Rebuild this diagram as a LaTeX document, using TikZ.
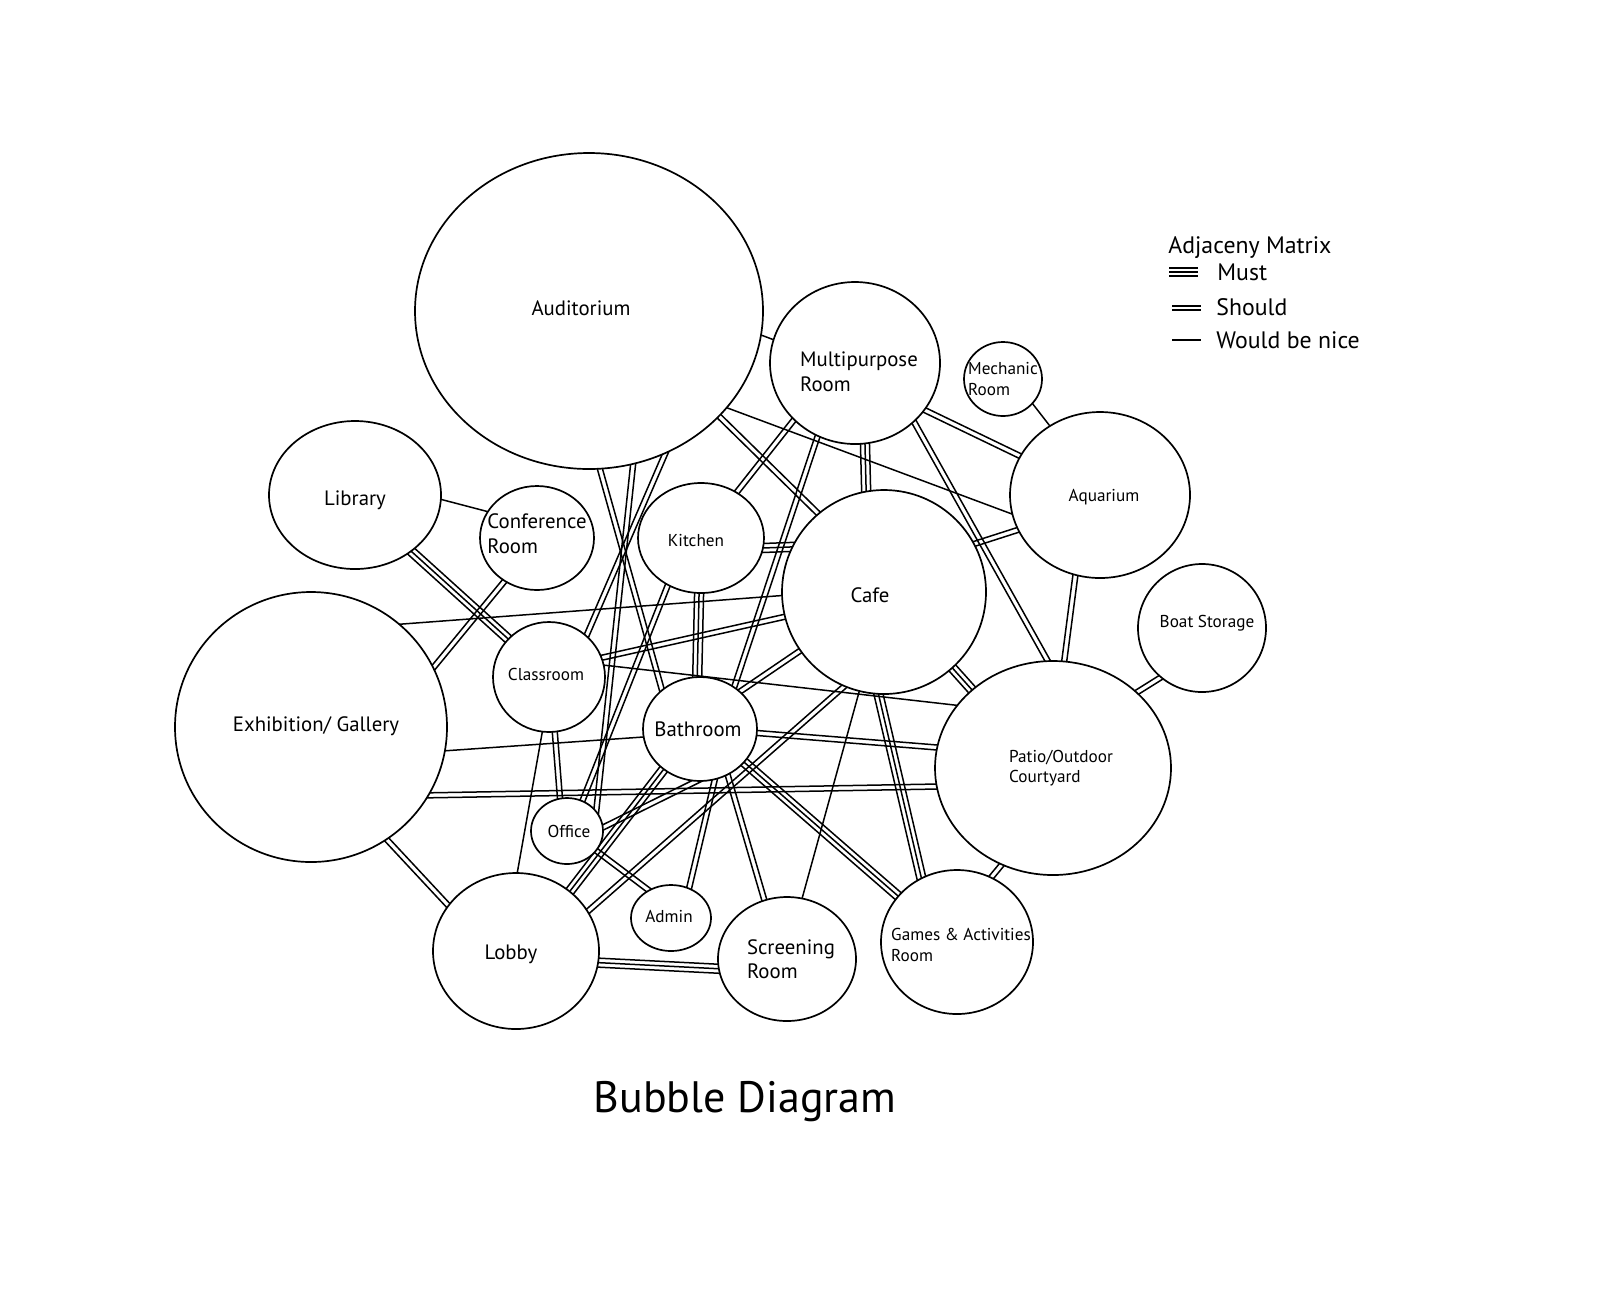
\documentclass[tikz,border=0pt]{standalone}
\usepackage{fontspec}
\setmainfont{PT Sans}
\usetikzlibrary {shapes.geometric}
\usetikzlibrary {positioning}
\usetikzlibrary {calc}
\usetikzlibrary {backgrounds}

\begin{document}
\begin{tikzpicture}[x=0.5pt, y=-0.5pt,
  bubble/.style={ellipse, draw, fill=white, line width=0.85pt, inner sep=0pt},
  tag/.style={align=left, inner sep=0pt},
  big/.style={font=\fontsize{10.4}{12.3}\selectfont},
  small/.style={font=\fontsize{8.6}{10.2}\selectfont},
  link/.style={line width=0.75pt, shorten <=-5pt, shorten >=-5pt},
  keyline/.style={line width=0.75pt},
  key/.style={anchor=base west, inner sep=0pt, font=\fontsize{11.9}{14}\selectfont}]

\useasboundingbox (0,0) rectangle (1600,1298);

% bubbles
\node (aud) [bubble, minimum width=174pt, minimum height=158pt] at (589,311) {};
\node (multi) [bubble, minimum width=85pt, minimum height=81pt] at (855,363) {};
\node (mech) [bubble, minimum width=39pt, minimum height=37pt] at (1003,379) {};
\node (aqua) [bubble, minimum width=90pt, minimum height=83pt] at (1100,495) {};
\node (boat) [bubble, minimum width=64pt, minimum height=64pt] at (1202,628) {};
\node (lib) [bubble, minimum width=86pt, minimum height=74pt] at (355,495) {};
\node (conf) [bubble, minimum width=57pt, minimum height=52pt] at (537,538) {};
\node (kit) [bubble, minimum width=63pt, minimum height=55pt] at (701,538) {};
\node (cafe) [bubble, minimum width=102pt, minimum height=102pt] at (884,592) {};
\node (class) [bubble, minimum width=56pt, minimum height=55pt] at (549,677) {};
\node (exhib) [bubble, minimum width=136pt, minimum height=135pt] at (311,727) {};
\node (bath) [bubble, minimum width=57pt, minimum height=52pt] at (700,729) {};
\node (patio) [bubble, minimum width=118pt, minimum height=107pt] at (1053,768) {};
\node (office) [bubble, minimum width=36pt, minimum height=33pt] at (567,831) {};
\node (admin) [bubble, minimum width=40pt, minimum height=33pt] at (671,918) {};
\node (lobby) [bubble, minimum width=83pt, minimum height=78pt] at (516,951) {};
\node (screen) [bubble, minimum width=69pt, minimum height=62pt] at (787,959) {};
\node (games) [bubble, minimum width=76pt, minimum height=72pt] at (957,942) {};

% names
\node (aud-t) [tag, big] at ($(aud)+(-8,-3)$) {Auditorium};
\node (multi-t) [tag, big] at ($(multi)+(4,9)$) {Multipurpose\\Room};
\node (mech-t) [tag, small] at (mech) {Mechanic\\Room};
\node (aqua-t) [tag, small] at ($(aqua)+(4,2)$) {Aquarium};
\node (boat-t) [tag, small] at ($(boat)+(5,-5)$) {Boat Storage};
\node (lib-t) [tag, big] at ($(lib)+(0,5)$) {Library};
\node (conf-t) [tag, big] at ($(conf)+(0,-4)$) {Conference\\Room};
\node (kit-t) [tag, small] at ($(kit)+(-5,2)$) {Kitchen};
\node (cafe-t) [tag, big] at ($(cafe)+(-14,3)$) {Cafe};
\node (class-t) [tag, small] at ($(class)+(-3,-3)$) {Classroom};
\node (exhib-t) [tag, big] at ($(exhib)+(5,-1)$) {Exhibition/ Gallery};
\node (bath-t) [tag, big] at ($(bath)+(-2,0)$) {Bathroom};
\node (patio-t) [tag, small] at ($(patio)+(8,0)$) {Patio/Outdoor\\Courtyard};
\node (office-t) [tag, small] at ($(office)+(2,0)$) {Office};
\node (admin-t) [tag, small] at ($(admin)+(-2,-2)$) {Admin};
\node (lobby-t) [tag, big] at ($(lobby)+(-5,3)$) {Lobby};
\node (screen-t) [tag, big] at ($(screen)+(4,0)$) {Screening\\Room};
\node (games-t) [tag, small] at ($(games)+(4,3)$) {Games \& Activities\\Room};

\begin{pgfonlayer}{background}
% would be nice
\foreach \a/\b in {aud.-8/multi.164, aud.-35/aqua.192, mech.-40/aqua.126, lib.-3/conf.152,
    exhib.49/cafe.182, exhib.-10/bath.188, class.-97/lobby.89, class.12/patio.147, cafe.-104/screen.76}
  \draw [link] (\a) -- (\b);

% should
\foreach \a/\b in {multi.-34/aqua.154, multi.-45/patio.93, multi.223/kit.52, multi.-117/bath.51,
    aud.-39/cafe.130, aud.-62/class.48, aud.-74/office.35, aud.-86/bath.134, conf.-127/exhib.26,
    exhib.-30/patio.189, exhib.-56/lobby.146, class.-84/office.102, class.20/cafe.194,
    aqua.203/cafe.28, aqua.-107/patio.84, boat.-130/patio.42, kit.-125/office.63, bath.-4/patio.170,
    bath.-95/office.6, bath.-74/admin.59, bath.-59/screen.111, bath.43/cafe.-145, cafe.-113/lobby.29,
    office.-34/admin.129, patio.-118/games.62}
{
  \draw [link] ($(\a)!1.25pt!90:(\b)$) -- ($(\b)!1.25pt!-90:(\a)$);
  \draw [link] ($(\a)!1.25pt!-90:(\b)$) -- ($(\b)!1.25pt!90:(\a)$);
}

% must
\foreach \a/\b in {multi.-83/cafe.100, kit.-9/cafe.154, kit.-92/bath.93, lib.-45/class.137,
    cafe.-48/patio.136, cafe.-93/games.119, bath.-37/games.142, lobby.48/bath.-132, lobby.-8/screen.188}
{
  \draw [link] (\a) -- (\b);
  \draw [link] ($(\a)!2.25pt!90:(\b)$) -- ($(\b)!2.25pt!-90:(\a)$);
  \draw [link] ($(\a)!2.25pt!-90:(\b)$) -- ($(\b)!2.25pt!90:(\a)$);
}
\end{pgfonlayer}

% legend
\node (key) [key] at (1168,253) {Adjaceny Matrix};
\node (must) [key] at (1217,280) {Must};
\node (should) [key] at (1216,315) {Should};
\node (nice) [key] at (1216,348) {Would be nice};
\coordinate (must-l) at (1169,272);
\coordinate (must-r) at (1198,272);
\coordinate (should-l) at (1172,308);
\coordinate (should-r) at (1201,308);
\coordinate (nice-l) at (1172,340);
\coordinate (nice-r) at (1201,340);
\draw [keyline] (must-l) -- (must-r);
\draw [keyline] ($(must-l)+(0,-4)$) -- ($(must-r)+(0,-4)$);
\draw [keyline] ($(must-l)+(0,4)$) -- ($(must-r)+(0,4)$);
\draw [keyline] ($(should-l)+(0,-2)$) -- ($(should-r)+(0,-2)$);
\draw [keyline] ($(should-l)+(0,2)$) -- ($(should-r)+(0,2)$);
\draw [keyline] (nice-l) -- (nice-r);

%title
\node (title) [font=\fontsize{22}{26}\selectfont] at (745,1102) {Bubble Diagram};

\end{tikzpicture}
\end{document}
